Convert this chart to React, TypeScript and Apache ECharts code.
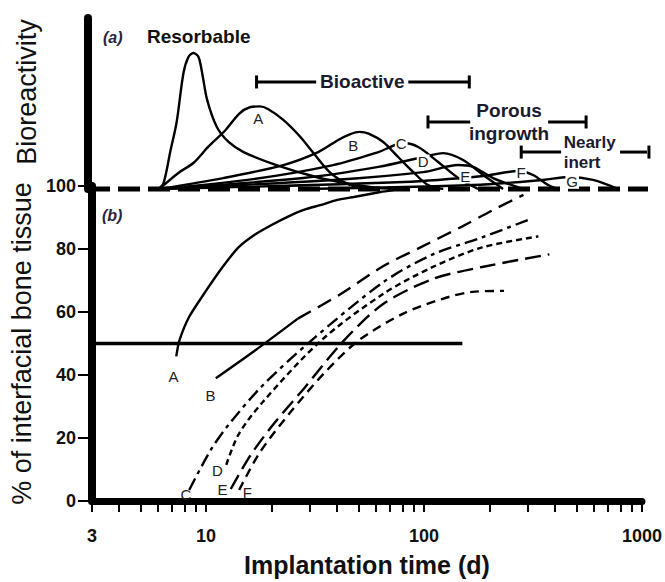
import React, { useEffect, useRef } from 'react';
import * as echarts from 'echarts';

// ---------- axis values (days, log scale) ----------
const X_MIN_DAYS = 3;
const X_MAX_DAYS = 1000;
const xTickDays = [3, 4, 5, 6, 7, 8, 9, 10, 20, 30, 40, 50, 60, 70, 80, 90, 100, 200, 300, 400, 500, 600, 700, 800, 900, 1000];
const xLabelDays = [3, 10, 100, 1000];
const yTickValues = [0, 20, 40, 60, 80, 100];

// ---------- panel (a): bioreactivity curves [days, relative bioreactivity] ----------
const bioResorbable = [[6.25, 0], [6.6, 3.5], [7.1, 22.8], [7.55, 38.6], [8.12, 67.8], [8.55, 77.2], [9.0, 79.5], [9.5, 77.2], [9.9, 66.7], [10.4, 52], [11.5, 36.3], [13.0, 27.5], [15.2, 21.6], [21.4, 14], [32.4, 7], [46.2, 2.9], [61.9, 0.6], [80, 0]];
const bioA = [[6.3, 0], [7.7, 9.4], [9.0, 15.2], [10.5, 24.6], [12.6, 34.5], [14.5, 44], [16.2, 47.8], [18, 48.3], [19.6, 46.8], [23, 40.4], [27.5, 30.4], [31.5, 21], [37.6, 9.4], [46.2, 2.3], [55.8, 0]];
const bioB = [[6.3, 0], [12.3, 6.4], [23, 14], [33.1, 21.6], [40.8, 28.7], [46, 32], [51, 33.4], [56, 32.4], [65.2, 27.5], [76.2, 18.7], [89, 10], [104, 2.3], [122, 0]];
const bioC = [[6.3, 0], [16.8, 5.8], [38.7, 14], [62, 21.6], [80.4, 26.9], [94, 24.6], [115.6, 15.8], [142.6, 6.4], [175.5, 0]];
const bioD = [[6.3, 0], [28.3, 6.4], [62, 12.9], [98.9, 18.7], [121.9, 21], [150, 17], [184.9, 8.2], [227.6, 0]];
const bioE = [[6.3, 0], [38.7, 5.3], [98.9, 9.9], [142.6, 14], [166.6, 12.9], [205, 6.4], [280.5, 0]];
const bioF = [[6.3, 0], [80.4, 4.1], [184.9, 7.6], [266, 10.5], [311, 8.2], [364, 2.3], [404, 0]];
const bioG = [[28, 0], [166.6, 2.3], [345, 5.3], [448, 7], [582, 5.3], [755, 0]];
const bioBaseline = [[3, 0], [1150, 0]];
const bioLetters = [['A', 17.7, 41.5], ['B', 47.7, 25.7], ['C', 78.7, 26.9], ['D', 98.9, 15.8], ['E', 153.5, 7.6], ['F', 274.8, 9.9], ['G', 468, 4.5]];
// brackets: [label, from day, gap start, gap end, to day, level, label day]
const brackets = [
  ['Bioactive', 17.4, 32.4, 84.7, 160, 62.6, 52.4],
  ['Porous\ningrowth', 104, 161.5, 364, 541, 39.2, 242.3],
  ['Nearly\ninert', 275, 417, 771, 1042, 21.6, 426],
];

// ---------- panel (b): % of interfacial bone tissue [days, %] ----------
const boneA = [[7.31, 45.9], [7.55, 50.9], [8.38, 58.5], [10, 66.7], [11.9, 74.2], [14.1, 80.5], [16.8, 84.6], [20.1, 87.7], [23.8, 90.3], [28.3, 92.5], [33.8, 94], [40, 95.6], [47.7, 96.5], [63.2, 98.1], [72.4, 98.7]];
const boneBSolid = [[11.1, 39], [16.8, 47.8], [26.4, 57.9]];
const boneBDashed = [[26.4, 57.9], [41.7, 65.8], [65.2, 74.6], [98.9, 80.9], [150, 87.2], [205, 92.2], [286, 97.2]];
const boneC = [[8.38, 3.5], [10.5, 16.1], [12.6, 23.9], [18.1, 36.5], [30.5, 51], [65.2, 69.5], [109.9, 78.3], [184.9, 83.7], [305, 89.4]];
const boneD = [[12.4, 11.5], [14.1, 21.1], [18.1, 31.2], [33.8, 51], [65.2, 65.8], [109.9, 74.3], [184.9, 80.5], [335, 84]];
const boneE = [[13.0, 3.8], [16, 14.5], [20.7, 24.9], [28.3, 35.9], [43, 51], [65.2, 62.6], [109.9, 70.5], [184.9, 74.3], [376, 78.3]];
const boneF = [[14.2, 3.5], [17.7, 15.5], [24.3, 28], [34.9, 40.6], [50.2, 51], [80.4, 59.5], [121.9, 64.2], [166.6, 66.4], [233, 66.7]];
const bone50 = [[3, 50], [150, 50]];
const boneLetters = [['A', 7.1, 39.6], ['B', 10.5, 33.6], ['C', 8.1, 2.2], ['D', 11.3, 9.7], ['E', 11.9, 3.5], ['F', 15.5, 2.8]];

const FONT = '"Liberation Sans", Arial, Helvetica, sans-serif';
const LOG = (t: number) => Math.log10(t);
const toXY = (pts: number[][]) => pts.map(([t, v]) => [LOG(t), v]);

function curve(name: string, pts: number[][], grid: number, extra: any = {}, clip = true, smooth = 0.3) {
  return {
    type: 'line',
    name,
    xAxisIndex: grid,
    yAxisIndex: grid,
    data: toXY(pts),
    symbol: 'none',
    showSymbol: false,
    smooth,
    clip,
    silent: true,
    z: 3,
    lineStyle: { color: '#000', width: 2.4, ...extra },
  };
}

function letters(name: string, items: any[], grid: number, fontSize: number, bg: boolean) {
  return {
    type: 'scatter',
    name,
    xAxisIndex: grid,
    yAxisIndex: grid,
    symbolSize: 1,
    itemStyle: { color: 'rgba(0,0,0,0)', opacity: 1 },
    silent: true,
    z: 5,
    data: items.map(([n, t, v]) => ({ name: n, value: [LOG(t), v] })),
    label: {
      show: true,
      position: 'inside',
      formatter: (p: any) => p.name,
      fontSize,
      fontFamily: FONT,
      color: '#222',
      opacity: 1,
      backgroundColor: bg ? '#fff' : 'transparent',
      padding: [0, 1],
    },
  };
}

export default function App() {
  const ref = useRef<HTMLDivElement>(null);
  useEffect(() => {
    if (!ref.current) return;
    const chart = echarts.init(ref.current, null, { renderer: 'svg' });

    const series: any[] = [
      curve('baseline', bioBaseline, 0, { width: 5, type: [22, 8] }, false, 0),
      curve('Resorbable', bioResorbable, 0),
      curve('A (a)', bioA, 0),
      curve('B (a)', bioB, 0),
      curve('C (a)', bioC, 0),
      curve('D (a)', bioD, 0),
      curve('E (a)', bioE, 0),
      curve('F (a)', bioF, 0),
      curve('G (a)', bioG, 0),
      letters('letters (a)', bioLetters, 0, 15, true),
      curve('50 %', bone50, 1, { width: 3.6 }, true, 0),
      curve('A (b)', boneA, 1, {}, true, 0.2),
      curve('B (b)', boneBSolid, 1),
      curve('B (b) dashed', boneBDashed, 1, { type: [15, 8] }),
      curve('C (b)', boneC, 1, { type: [13, 5, 4, 5] }),
      curve('D (b)', boneD, 1, { type: [6, 4] }),
      curve('E (b)', boneE, 1, { type: [16, 7] }),
      curve('F (b)', boneF, 1, { type: [9, 6] }),
      letters('letters (b)', boneLetters, 1, 15, false),
    ];

    brackets.forEach(([label, from, gapStart, gapEnd, to, level, at]: any, i: number) => {
      const seg = (a: number, b: number, capAtStart: boolean) => ({
        type: 'line',
        name: 'bracket ' + i + (capAtStart ? ' left' : ' right'),
        xAxisIndex: 0,
        yAxisIndex: 0,
        data: [
          { value: [LOG(a), level], symbol: capAtStart ? 'rect' : 'none' },
          { value: [LOG(b), level], symbol: capAtStart ? 'none' : 'rect' },
        ],
        symbolSize: [3, 13],
        showSymbol: true,
        clip: false,
        silent: true,
        itemStyle: { color: '#000' },
        lineStyle: { color: '#000', width: 3 },
        z: 4,
      });
      series.push(seg(from, gapStart, true), seg(gapEnd, to, false));
      const left = i === 2;
      series.push({
        type: 'scatter',
        name: 'bracket label ' + i,
        xAxisIndex: 0,
        yAxisIndex: 0,
        symbolSize: 1,
        clip: false,
        itemStyle: { color: 'rgba(0,0,0,0)', opacity: 1 },
        silent: true,
        z: 6,
        data: [{ name: label, value: [LOG(at), level] }],
        label: {
          show: true,
          position: left ? 'right' : 'inside',
          distance: 0,
          formatter: (p: any) => p.name,
          fontSize: left ? 17 : 19,
          fontWeight: 'bold',
          fontFamily: FONT,
          color: '#1c1a30',
          opacity: 1,
          align: left ? 'left' : 'center',
          lineHeight: left ? 20 : 23,
        },
      });
    });

    const option: any = {
      animation: false,
      backgroundColor: '#fff',
      grid: [
        { left: 88, right: 20, top: 18, height: 171 },
        { left: 88, right: 20, top: 186, height: 318 },
      ],
      xAxis: [
        { type: 'value', gridIndex: 0, min: LOG(X_MIN_DAYS), max: LOG(X_MAX_DAYS), show: false },
        {
          type: 'value',
          gridIndex: 1,
          min: LOG(X_MIN_DAYS),
          max: LOG(X_MAX_DAYS),
          axisLine: { show: true, onZero: false, lineStyle: { color: '#000', width: 7 } },
          axisTick: { show: true, customValues: xTickDays.map(LOG), length: 11, lineStyle: { color: '#000', width: 2 } },
          axisLabel: {
            show: true,
            customValues: xLabelDays.map(LOG),
            formatter: (v: number) => String(Math.round(Math.pow(10, v))),
            margin: 26,
            fontSize: 18,
            fontWeight: 'bold',
            color: '#111',
            fontFamily: FONT,
          },
          splitLine: { show: false },
          name: 'Implantation time (d)',
          nameLocation: 'middle',
          nameGap: 51,
          nameTextStyle: { fontSize: 25, fontWeight: 'bold', color: '#111', fontFamily: FONT },
        },
      ],
      yAxis: [
        {
          type: 'value',
          gridIndex: 0,
          min: 0,
          max: 100,
          axisLine: { show: true, onZero: false, lineStyle: { color: '#000', width: 8 } },
          axisTick: { show: false },
          axisLabel: { show: false },
          splitLine: { show: false },
        },
        {
          type: 'value',
          gridIndex: 1,
          min: 0,
          max: 100,
          interval: 20,
          axisLine: { show: true, onZero: false, lineStyle: { color: '#000', width: 8 } },
          axisTick: { show: true, customValues: yTickValues, length: 14, lineStyle: { color: '#000', width: 2 } },
          axisLabel: { show: true, margin: 16, fontSize: 18, fontWeight: 'bold', color: '#111', fontFamily: FONT },
          splitLine: { show: false },
          name: '% of interfacial bone tissue',
          nameLocation: 'middle',
          nameGap: 46,
          nameTextStyle: { fontSize: 27, color: '#111', fontFamily: FONT },
        },
      ],
      graphic: [
        { type: 'text', x: 27, y: 92, rotation: Math.PI / 2, style: { text: 'Bioreactivity', fontSize: 27, fontFamily: FONT, fill: '#111', align: 'center', verticalAlign: 'middle' } },
        { type: 'text', x: 103, y: 37, style: { text: '(a)', fontSize: 16, fontWeight: 'bold', fontStyle: 'italic', fontFamily: FONT, fill: '#2a2440', verticalAlign: 'middle' } },
        { type: 'text', x: 147, y: 36, style: { text: 'Resorbable', fontSize: 19, fontWeight: 'bold', fontFamily: FONT, fill: '#111', verticalAlign: 'middle' } },
        { type: 'text', x: 102, y: 215, style: { text: '(b)', fontSize: 16, fontWeight: 'bold', fontStyle: 'italic', fontFamily: FONT, fill: '#2a2440', verticalAlign: 'middle' } },
      ],
      series,
    };
    chart.setOption(option);
    return () => chart.dispose();
  }, []);
  return <div ref={ref} style={{ position: 'fixed', left: 0, top: 0, width: 665, height: 582, background: '#fff' }} />;
}
